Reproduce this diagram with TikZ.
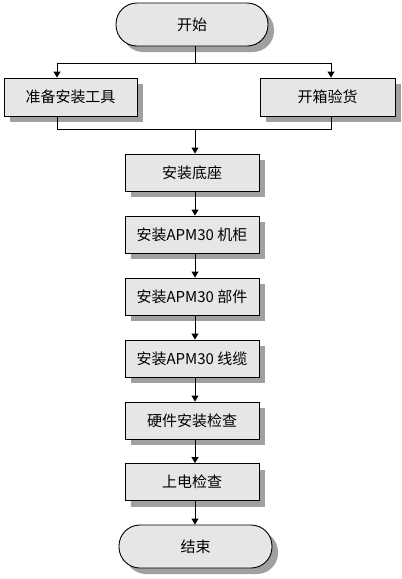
\documentclass[tikz,border=0pt]{standalone}
\usepackage{fontspec}
\newfontfamily\cjk{Noto Sans CJK SC}
\usetikzlibrary{shadows,arrows.meta}
\definecolor{boxfill}{HTML}{E6E6E6}
\definecolor{shadowgray}{HTML}{A0A0A0}
\begin{document}
\begin{tikzpicture}[x=1pt,y=-1pt,
  every node/.style={font=\cjk\fontsize{15}{17}\selectfont, inner sep=0pt},
  procbox/.style={draw=black, line width=0.9pt, fill=boxfill, rectangle,
    minimum width=134pt, minimum height=37pt,
    drop shadow={shadow xshift=6pt, shadow yshift=-6pt, fill=shadowgray, opacity=1}},
  termbox/.style={draw=black, line width=0.9pt, fill=boxfill, rectangle, rounded corners=21pt,
    minimum width=152pt, minimum height=43pt,
    drop shadow={shadow xshift=6pt, shadow yshift=-6pt, fill=shadowgray, opacity=1}},
  conn/.style={draw=black, line width=0.9pt},
  arr/.style={conn, -{Triangle[width=7pt,length=6pt]}}]
\useasboundingbox (0,0) rectangle (402,579);
\fill[white] (0,0) rectangle (402,579);

\node[termbox] (start) at (192,24.5) {开始};
\node[procbox, minimum width=133pt, minimum height=38pt] (prep) at (70.5,97) {准备安装工具};
\node[procbox, minimum width=135pt, minimum height=38pt] (unbox) at (327.5,97) {开箱验货};
\node[procbox] (b1) at (192,172.5) {安装底座};
\node[procbox] (b2) at (192,234.5) {安装APM30 机柜};
\node[procbox] (b3) at (192,296.5) {安装APM30 部件};
\node[procbox] (b4) at (192,358.5) {安装APM30 线缆};
\node[procbox] (b5) at (192,420.5) {硬件安装检查};
\node[procbox] (b6) at (192,482) {上电检查};
\node[termbox, minimum width=153pt] (stop) at (195.5,546.5) {结束};

\coordinate (j1) at (195,63);
\coordinate (jl) at (57,63);
\coordinate (jr) at (331,63);
\coordinate (kl) at (57,129);
\coordinate (kr) at (331,129);
\coordinate (k1) at (195,129);

\draw[conn] (start.south -| j1) -- (j1);
\draw[conn] (jl) -- (jr);
\draw[arr] (jl) -- (prep.north -| jl);
\draw[arr] (jr) -- (unbox.north -| jr);
\draw[conn] (prep.south -| kl) -- (kl) -- (kr) -- (unbox.south -| kr);
\draw[arr] (k1) -- (b1.north -| k1);
\draw[arr] (b1.south -| k1) -- (b2.north -| k1);
\draw[arr] (b2.south -| k1) -- (b3.north -| k1);
\draw[arr] (b3.south -| k1) -- (b4.north -| k1);
\draw[arr] (b4.south -| k1) -- (b5.north -| k1);
\draw[arr] (b5.south -| k1) -- (b6.north -| k1);
\draw[arr] (b6.south -| k1) -- (stop.north -| k1);
\end{tikzpicture}
\end{document}
